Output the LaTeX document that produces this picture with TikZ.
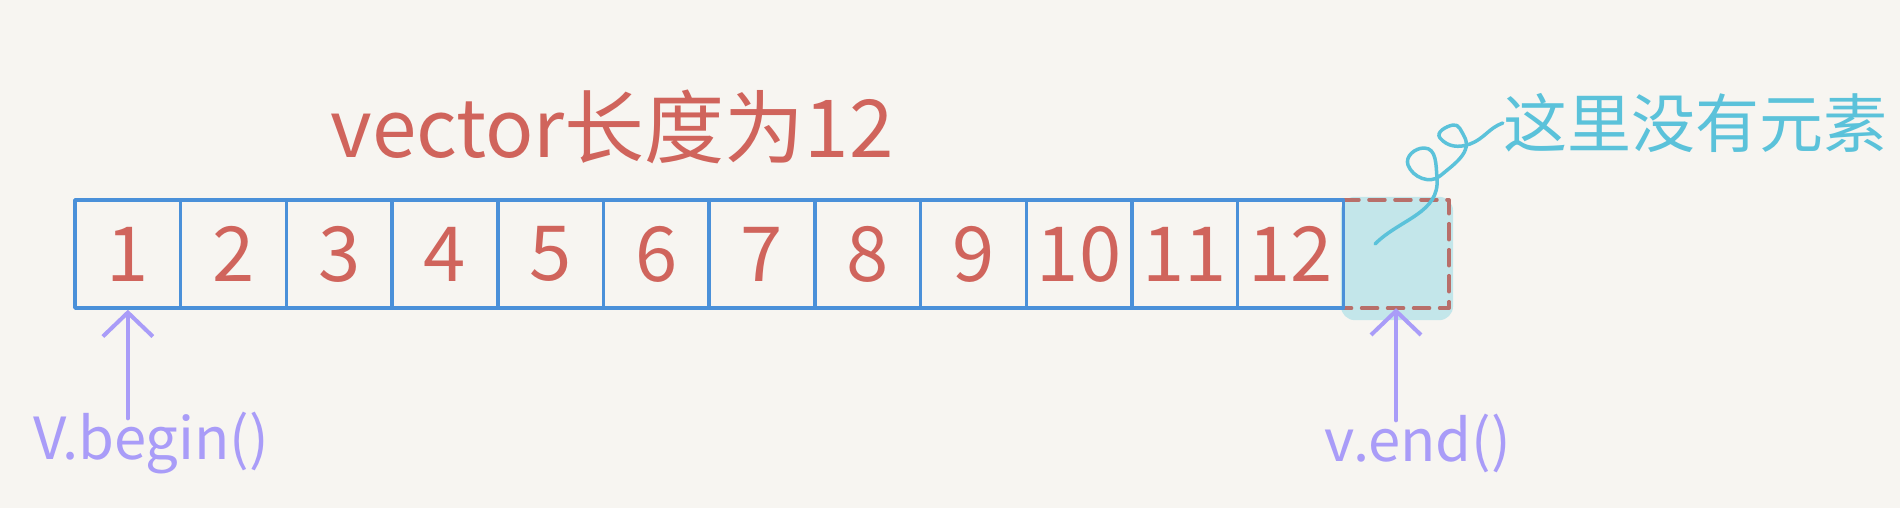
\documentclass[tikz,border=0pt]{standalone}
\usepackage{fontspec}
\setmainfont{Noto Sans CJK SC}
\usetikzlibrary{arrows.meta, positioning}
\definecolor{paper}{HTML}{F7F5F1}
\definecolor{cellblue}{HTML}{4A90D9}
\definecolor{inkred}{HTML}{D0645C}
\definecolor{iterpurple}{HTML}{A99CF8}
\definecolor{notecyan}{HTML}{5BC2DA}
\definecolor{voidcyan}{HTML}{C3E6EA}
\definecolor{voidred}{HTML}{B86F6A}

\begin{document}
\begin{tikzpicture}[x=1pt, y=1pt, line cap=round, line join=round,
  >={Straight Barb[length=24pt,width=50pt]},
  cell/.style={draw=cellblue, line width=3.5pt, minimum width=105.7pt, minimum height=108pt,
    inner sep=0pt, text=inkred, font=\fontsize{76}{76}\selectfont},
  voidcell/.style={minimum width=105.7pt, minimum height=108pt, inner sep=0pt},
  voidedge/.style={draw=voidred, line width=3.5pt, dash pattern=on 16pt off 10pt},
  pointer/.style={->, draw=iterpurple, line width=4pt},
  iterlabel/.style={text=iterpurple, inner sep=0pt, font=\fontsize{58}{58}\selectfont},
  titlelabel/.style={text=inkred, inner sep=0pt, font=\fontsize{80}{80}\selectfont},
  notelabel/.style={text=notecyan, inner sep=0pt, font=\fontsize{64}{64}\selectfont}]
  \fill[paper] (0,0) rectangle (1900,508);
  \useasboundingbox (0,0) rectangle (1900,508);

  % the place after the last element
  \node[voidcell] (cend) at (1396,254) {};
  \fill[voidcyan, rounded corners=14pt] ([shift={(-2,-12)}]cend.south west) rectangle ([shift={(4,3)}]cend.north east);
  \draw[voidedge] (cend.north west) -- (cend.north east) -- (cend.south east) -- (cend.south west);

  % the twelve elements
  \foreach \i in {1,...,12}
    \node[cell] (c\i) at ({75+(\i-0.5)*105.7},254) {\i};

  % labels
  \node[titlelabel] (ltitle) at (612,381) {vector长度为12};
  \node[notelabel] (lnote) at (1695,385) {这里没有元素};
  \node[iterlabel, anchor=base] (lbegin) at (151,48) {V.begin()};
  \node[iterlabel, anchor=base] (lend) at (1418,46) {v.end()};

  % iterators
  \draw[pointer] ([yshift=-6pt]lbegin.north -| c1.south) -- (c1.south);
  \draw[pointer] ([yshift=-6pt]lend.north -| cend.south) -- (cend.south);

  % curl to the note
  \coordinate (curl) at ([shift={(-21,10)}]cend.center);
  \draw[notecyan, line width=3.5pt] (curl) to[out=45,in=-85] (1437,330)
    to[out=95,in=0] (1424,360) to[out=180,in=110] (1408,343)
    to[out=-70,in=220] (1440,332) to[out=40,in=-60] (1464,372)
    to[out=120,in=10] (1453,383) to[out=190,in=130] (1440,370)
    to[out=-50,in=200] (1470,364) to[out=20,in=200] (lnote.west);
\end{tikzpicture}
\end{document}
